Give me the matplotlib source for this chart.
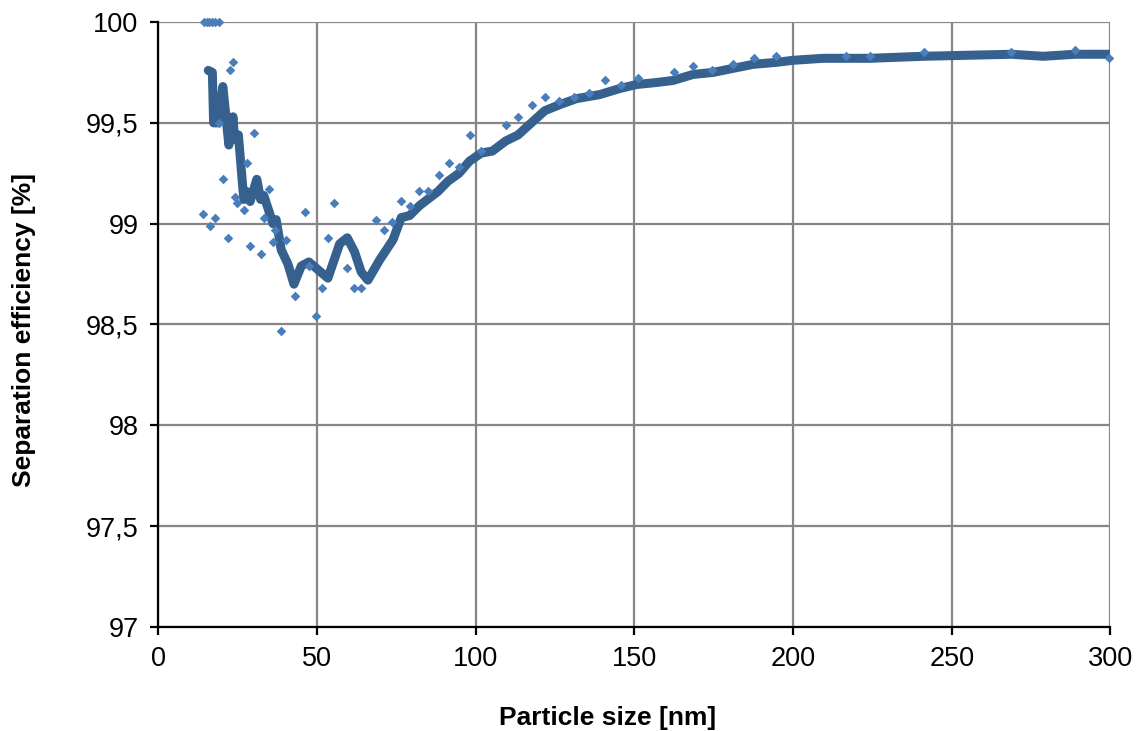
import numpy as np
import matplotlib
matplotlib.use('Agg')
from matplotlib import pyplot as plt

plt.rcParams['font.family'] = ['Liberation Sans', 'DejaVu Sans']

# measured points (scatter)
meas_x = [14.5, 15.3, 16.1, 17.0, 18.0, 19.3,
          23.5, 22.6, 19.1, 30.2, 28.1, 20.4, 24.2, 34.8, 25.0, 27.0, 14.2, 17.8,
          16.4, 21.9, 33.4, 29.1, 32.4, 36.1, 36.9, 40.3, 46.3, 43.0, 38.7, 49.7,
          51.6, 53.4, 55.3, 59.5, 61.7, 63.9, 47.7, 68.6, 71.1, 73.7, 76.6, 79.3,
          82.2, 85.1, 88.4, 91.6, 94.8, 98.2, 101.8, 109.5, 113.4, 117.8, 122.0,
          126.2, 130.9, 135.7, 140.8, 145.8, 151.3, 162.5, 168.5, 174.6, 181.0,
          187.6, 194.5, 216.8, 224.4, 241.2, 268.8, 288.8, 299.6]
meas_y = [100.0, 100.0, 100.0, 100.0, 100.0, 100.0,
          99.80, 99.76, 99.50, 99.45, 99.30, 99.22, 99.13, 99.17, 99.10, 99.07, 99.05, 99.03,
          98.99, 98.93, 99.03, 98.89, 98.85, 98.91, 98.97, 98.92, 99.06, 98.64, 98.47, 98.54,
          98.68, 98.93, 99.10, 98.78, 98.68, 98.68, 98.79, 99.02, 98.97, 99.01, 99.11, 99.09,
          99.16, 99.16, 99.24, 99.30, 99.28, 99.44, 99.36, 99.49, 99.53, 99.59, 99.63,
          99.61, 99.63, 99.65, 99.71, 99.69, 99.72, 99.75, 99.78, 99.76, 99.79,
          99.82, 99.83, 99.83, 99.83, 99.85, 99.85, 99.86, 99.82]

# smoothed curve
fit_x = [15.8, 17.1, 17.5, 18.8, 20.4, 22.3, 23.6, 24.1, 25.3, 27.0, 27.8, 29.0,
         31.1, 32.3, 33.3, 36.2, 37.2, 38.8, 40.9, 42.8, 45.1, 47.5, 53.5, 57.2,
         59.6, 61.9, 64.0, 66.1, 69.8, 74.0, 76.6, 79.2, 82.4, 88.2, 91.3, 94.8,
         98.1, 101.8, 105.3, 109.5, 113.4, 117.6, 121.8, 126.5, 131.8, 139.1, 145.4,
         150.7, 157.0, 162.2, 168.5, 174.8, 181.1, 187.4, 194.8, 200.0, 209.5,
         224.2, 241.0, 268.8, 278.8, 288.8, 299.6]
fit_y = [99.76, 99.75, 99.50, 99.50, 99.68, 99.39, 99.53, 99.42, 99.44, 99.12, 99.16, 99.11,
         99.22, 99.12, 99.14, 99.00, 99.02, 98.87, 98.80, 98.70, 98.79, 98.81, 98.73, 98.90,
         98.93, 98.86, 98.76, 98.72, 98.82, 98.92, 99.03, 99.04, 99.09, 99.16, 99.21, 99.25,
         99.31, 99.35, 99.36, 99.41, 99.44, 99.50, 99.56, 99.59, 99.62, 99.64, 99.67,
         99.69, 99.70, 99.71, 99.74, 99.75, 99.77, 99.79, 99.80, 99.81, 99.82,
         99.82, 99.83, 99.84, 99.83, 99.84, 99.84]

yticks = [97, 97.5, 98, 98.5, 99, 99.5, 100]
ytick_labels = ['97', '97,5', '98', '98,5', '99', '99,5', '100']
xticks = [0, 50, 100, 150, 200, 250, 300]

fig = plt.figure(figsize=(11.38, 7.31), dpi=100)
ax = fig.add_axes([0.1389, 0.1423, 0.8369, 0.8276])

ax.plot(fit_x, fit_y, color='#36618f', lw=6.5, solid_joinstyle='round',
        solid_capstyle='round', zorder=3)
ax.scatter(meas_x, meas_y, marker='D', s=24, color='#4a7ebb', linewidths=0, zorder=4, clip_on=False)

ax.set_xlim(0, 300)
ax.set_ylim(97, 100)
ax.set_xticks(xticks)
ax.set_yticks(yticks)
ax.set_yticklabels(ytick_labels)
ax.grid(True, color='#868686', lw=1.6)
ax.set_axisbelow(True)
for s in ['top', 'right']:
    ax.spines[s].set_visible(False)
for s in ['left', 'bottom']:
    ax.spines[s].set_linewidth(1.6)
    ax.spines[s].set_zorder(5)
ax.tick_params(direction='out', length=6, width=1.6, labelsize=19.5, pad=8)

ax.set_xlabel('Particle size [nm]', fontsize=19, fontweight='bold', va='center')
ax.set_ylabel('Separation efficiency [%]', fontsize=19, fontweight='bold', va='center')
ax.xaxis.set_label_coords(0.4716, -0.150)
ax.yaxis.set_label_coords(-0.1408, 0.491)

fig.savefig('out.png', dpi=100)
